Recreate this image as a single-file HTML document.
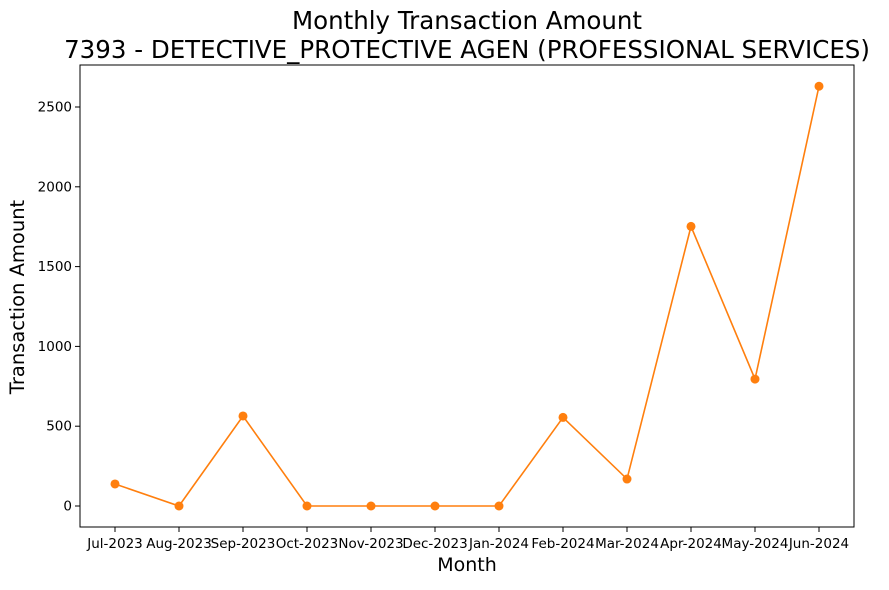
<!DOCTYPE html>
<html><head><meta charset="utf-8"><style>
body{margin:0;background:#fff;font-family:"Liberation Sans","DejaVu Sans",sans-serif;}
svg text{font-family:"DejaVu Sans","Liberation Sans",sans-serif;}
</style></head><body>
<svg id="chart" width="889" height="585" xmlns="http://www.w3.org/2000/svg">
<rect width="889" height="585" fill="#fff"/>
<text x="467" y="29" font-size="24.5" text-anchor="middle">Monthly Transaction Amount</text>
<text x="467" y="58" font-size="24.5" text-anchor="middle">7393 - DETECTIVE_PROTECTIVE AGEN (PROFESSIONAL SERVICES)</text>
<g id="axes"></g>
<rect x="80" y="65" width="774" height="462" fill="none" stroke="#000" stroke-width="1"/>
<text x="467" y="571" font-size="19" text-anchor="middle">Month</text>
<text transform="translate(24,297) rotate(-90)" font-size="19.5" text-anchor="middle">Transaction Amount</text>
</svg>
<script>
const categories=["Jul-2023","Aug-2023","Sep-2023","Oct-2023","Nov-2023","Dec-2023","Jan-2024","Feb-2024","Mar-2024","Apr-2024","May-2024","Jun-2024"];
const amounts=[138,0,564,0,0,0,0,555,169,1752,795,2630];
const yTicks=[0,500,1000,1500,2000,2500];
const NS="http://www.w3.org/2000/svg";
const g=document.getElementById("axes");
function xs(i){return 115+i*64;}
function ys(v){return 506-v*0.1596;}
function mk(t,a){const e=document.createElementNS(NS,t);for(const k in a)e.setAttribute(k,a[k]);g.appendChild(e);return e;}
yTicks.forEach(v=>{
 const l=mk("line",{x1:75,x2:80,y1:ys(v),y2:ys(v),stroke:"#000"});
 
 
 const t=mk("text",{x:72,y:ys(v)+4.5,"font-size":13.5,"text-anchor":"end"});t.textContent=v;
 
 
});
categories.forEach((c,i)=>{
 const l=mk("line",{x1:xs(i),x2:xs(i),y1:527,y2:532,stroke:"#000"});
 
 
 const t=mk("text",{x:xs(i),y:548,"font-size":13.5,"text-anchor":"middle"});t.textContent=c;
 
 
});
const p=mk("polyline",{points:amounts.map((v,i)=>xs(i)+","+ys(v)).join(" "),fill:"none",stroke:"#ff7f0e","stroke-width":1.6});


amounts.forEach((v,i)=>{
 const c=mk("circle",{cx:xs(i),cy:ys(v),r:4.5,fill:"#ff7f0e"});
 
 
});
</script>
</body></html>
